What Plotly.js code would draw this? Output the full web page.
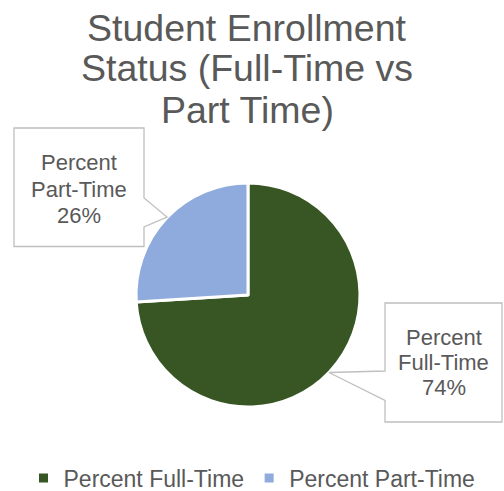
<!DOCTYPE html>
<html>
<head>
<meta charset="utf-8">
<script src="https://cdn.plot.ly/plotly-3.0.1.min.js"></script>
<style>html,body{margin:0;padding:0;background:#fff;}#chart{width:504px;height:491px;}</style>
</head>
<body>
<div id="chart"></div>
<script>
// ---- data ----
const categories = ["Percent Full-Time", "Percent Part-Time"];
const values = [74, 26];
const colors = ["#375623", "#8FAADC"];
const titleLines = ["Student Enrollment", "Status (Full-Time vs", "Part Time)"];

// ---- helpers (pixel -> paper) ----
const W = 504, H = 491;
const px = x => x / W;
const py = y => 1 - y / H;
const FONT = "Liberation Sans, Arial, sans-serif";
const GREY = "#595959";

const total = values.reduce((a, b) => a + b, 0);

const cx = 248, cy = 295, r = 112;
const trace = {
  type: "pie",
  labels: categories,
  values: values,
  sort: false,
  direction: "clockwise",
  rotation: 0,
  marker: { colors: colors, line: { color: "#ffffff", width: 3 } },
  textinfo: "none",
  hoverinfo: "label+percent",
  domain: { x: [px(cx - r), px(cx + r)], y: [py(cy + r), py(cy - r)] },
  showlegend: true
};

const annotations = [];
// title lines
const titleCenters = [28, 68.5, 109.5];
titleLines.forEach((t, i) => {
  annotations.push({
    text: t, xref: "paper", yref: "paper", x: px(247), y: py(titleCenters[i]),
    xanchor: "center", yanchor: "middle", showarrow: false,
    font: { family: FONT, size: 37.5, color: GREY }
  });
});

// callout labels
const calloutCenters = [ { x: 443.5, ys: [337.5, 362.5, 387.5] }, { x: 79, ys: [162.5, 189, 215.5] } ];
categories.forEach((c, i) => {
  const sp = c.indexOf(" ");
  const pct = Math.round(values[i] / total * 100) + "%";
  const lines = [c.slice(0, sp), c.slice(sp + 1), pct];
  lines.forEach((t, j) => {
    annotations.push({
      text: t, xref: "paper", yref: "paper", x: px(calloutCenters[i].x), y: py(calloutCenters[i].ys[j]),
      xanchor: "center", yanchor: "middle", showarrow: false,
      font: { family: FONT, size: 22, color: GREY }
    });
  });
});

function pathPx(pts) {
  return "M" + pts.map(p => px(p[0]) + "," + py(p[1])).join(" L") + " Z";
}
const shapes = [
  { type: "path", xref: "paper", yref: "paper",
    path: pathPx([[385,303],[502,303],[502,422],[385,422],[385,400.5],[329,372.5],[385,371]]),
    fillcolor: "#ffffff", line: { color: "#BFBFBF", width: 1.3 } },
  { type: "path", xref: "paper", yref: "paper",
    path: pathPx([[14,128],[144,128],[144,198],[167,217],[144,227],[144,246.5],[14,246.5]]),
    fillcolor: "#ffffff", line: { color: "#BFBFBF", width: 1.3 } }
];

const layout = {
  width: W, height: H,
  margin: { l: 0, r: 0, t: 0, b: 0, autoexpand: false },
  paper_bgcolor: "#ffffff",
  showlegend: true,
  legend: {
    orientation: "h", x: 0.5, xanchor: "center", y: py(478), yanchor: "middle",
    font: { family: FONT, size: 23, color: GREY }, itemclick: false, traceorder: "normal"
  },
  annotations: annotations,
  shapes: shapes
};

Plotly.newPlot("chart", [trace], layout, { displayModeBar: false, staticPlot: true });
</script>
</body>
</html>
